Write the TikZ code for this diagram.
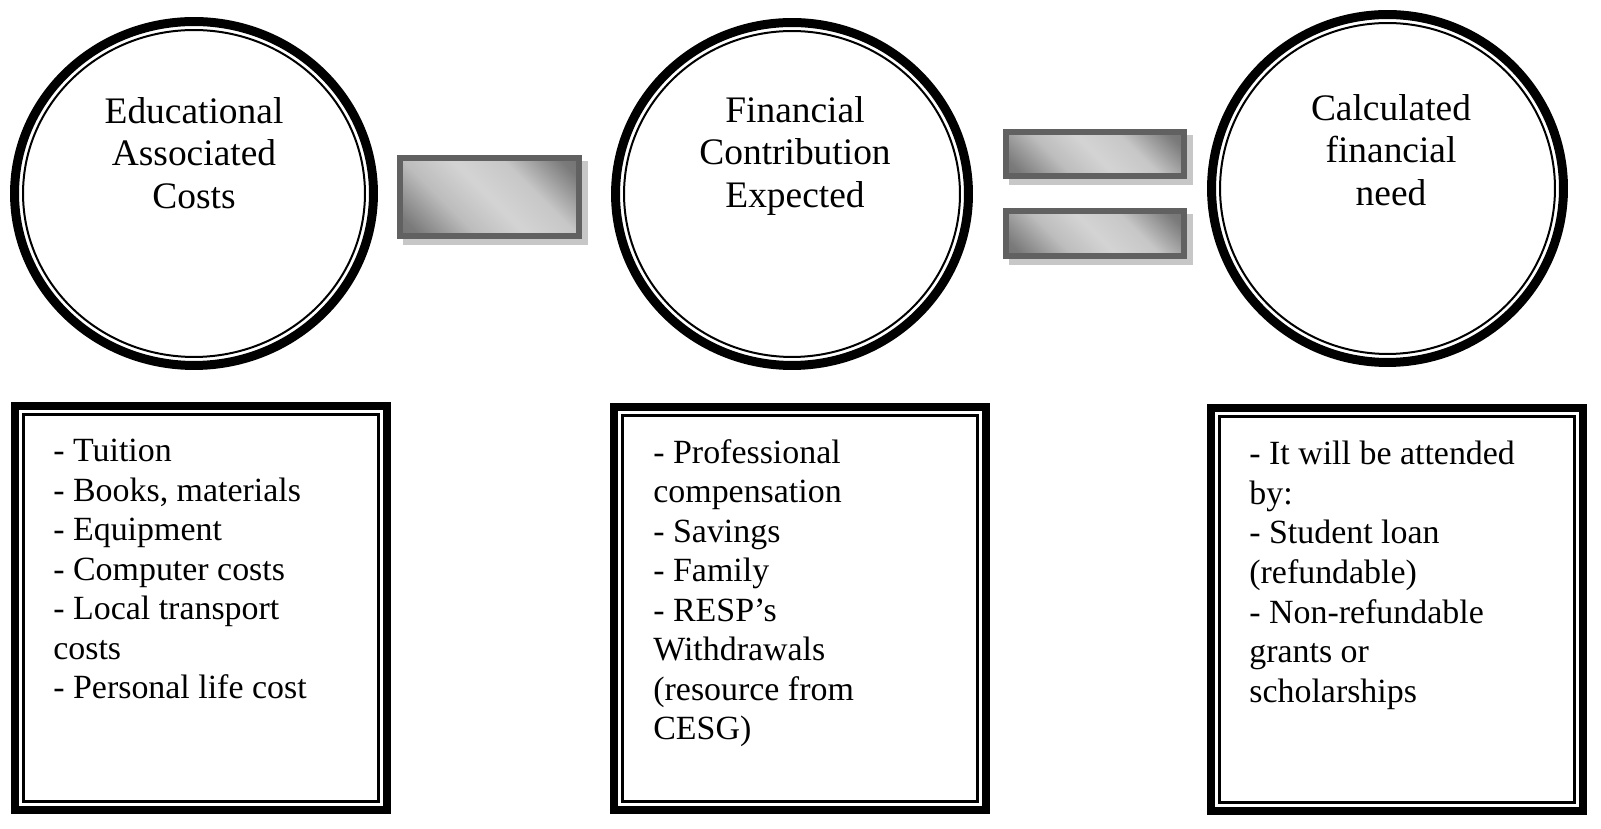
\documentclass[tikz,border=0pt]{standalone}
\usepackage{fontspec}
\setmainfont{Liberation Serif}
\usetikzlibrary{positioning,shapes.geometric,shadows,calc}
\pgfdeclareverticalshading{barshade}{100bp}{color(0bp)=(black!62); color(20bp)=(black!52);
  color(36bp)=(black!26); color(50bp)=(black!17); color(64bp)=(black!22);
  color(80bp)=(black!52); color(100bp)=(black!62)}
\tikzset{
  ring/.style={ellipse,draw,line width=0.18cm,fill=white,inner sep=0pt,
    path picture={\draw[line width=0.04cm]
      let \p1=(path picture bounding box.north east),
          \p2=(path picture bounding box.center) in
      (\p2) ellipse [x radius=\x1-\x2-0.17cm, y radius=\y1-\y2-0.17cm];}},
  ringtext/.style={anchor=north,align=center,inner sep=0pt,
    font=\fontsize{21.3pt}{24.2pt}\selectfont},
  listbox/.style={draw,line width=0.16cm,fill=white,
    minimum width=7.46cm,minimum height=8.08cm,
    path picture={\draw[line width=0.06cm]
      ([xshift=0.17cm,yshift=0.17cm]path picture bounding box.south west) rectangle
      ([xshift=-0.17cm,yshift=-0.17cm]path picture bounding box.north east);}},
  listtext/.style={anchor=north west,align=left,inner sep=0pt,
    font=\fontsize{19.3pt}{22.5pt}\selectfont},
  bar/.style={draw=black!62,line width=0.12cm,minimum width=3.57cm,
    shading=barshade,shading angle=-45,
    drop shadow={shadow xshift=0.12cm,shadow yshift=-0.12cm,
      fill=black!22,draw=black!22,line width=0.12cm,opacity=1}},
}
\begin{document}
\begin{tikzpicture}[x=0.02cm,y=0.02cm]
  \useasboundingbox (0,0) rectangle (1601,828);
  \node[ring,minimum width=7.18cm,minimum height=6.88cm] (edu) at (194,634.5) {};
  \node[ring,minimum width=7.06cm,minimum height=6.86cm] (fin) at (792,634) {};
  \node[ring,minimum width=7.04cm,minimum height=6.96cm] (need) at (1387.5,639.5) {};
  \node[ringtext] (edu-t) at (194,731) {Educational\\Associated\\Costs};
  \node[ringtext] (fin-t) at (795,732) {Financial\\Contribution\\Expected};
  \node[ringtext] (need-t) at (1391,734) {Calculated\\financial\\need};
  \node[bar,minimum height=1.56cm] (minus) at (489.5,631) {};
  \node[bar,minimum height=0.88cm] (eq-top) at (1095,674) {};
  \node[bar,minimum height=0.9cm] (eq-bot) at (1095,594.5) {};
  \node[listbox] (edu-box) at (201,220) {};
  \node[listbox] (fin-box) at (800,219.5) {};
  \node[listbox] (need-box) at (1397,218.5) {};
  \node[listtext] (edu-list) at (53,389)
       {- Tuition\\- Books, materials\\- Equipment\\- Computer costs\\
        - Local transport\\costs\\- Personal life cost};
  \node[listtext] (fin-list) at (653,389)
       {- Professional\\compensation\\- Savings\\- Family\\- RESP’s\\
        Withdrawals\\(resource from\\CESG)};
  \node[listtext] (need-list) at (1249,387)
       {- It will be attended\\by:\\- Student loan\\(refundable)\\
        - Non-refundable\\grants or\\scholarships};
\end{tikzpicture}
\end{document}
